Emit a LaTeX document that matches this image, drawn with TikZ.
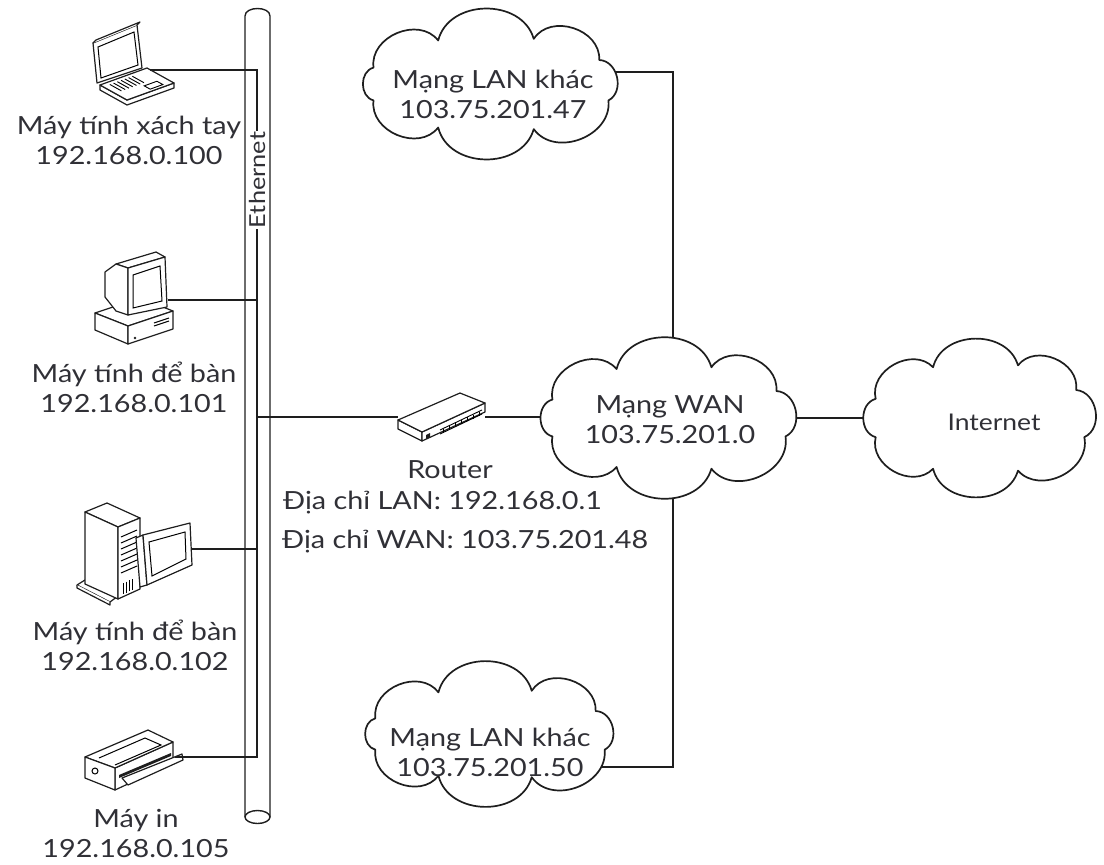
\documentclass[tikz,border=0pt]{standalone}
\usepackage{fontspec}
\setmainfont{Lato}[FakeStretch=1.15]
\usetikzlibrary{calc, backgrounds}

\definecolor{inkgray}{RGB}{48,48,54}
\definecolor{linegray}{RGB}{30,30,30}

\tikzset{
    wire/.style={draw=linegray, line width=1.7pt},
    sketch/.style={draw=linegray, line width=1.2pt, line join=round, fill=white},
    caption/.style={text=inkgray, font=\fontsize{25}{30}\selectfont, align=center, inner sep=0pt},
    cloudline/.style={draw=linegray, line width=1.7pt, fill=white, line join=round},
    % cloud outline: #1, #2 = radii of the ellipse the puffs sit on
    pics/puffcloud/.style 2 args={code={
        \draw[cloudline] (20:#1 and #2)
            \foreach \t in {70,115,160,200,245,290,330,380}
                { to[bend left=75, looseness=1.15] (\t:#1 and #2) } -- cycle;
        \coordinate (-c) at (0,0);
    }},
    % device drawings, (0,0) is where the cable plugs in
    laptop/.pic={
        \draw[sketch] (-53,13) -- (-57,-27) -- (-13,-45) -- (-8,-2) -- cycle;
        \draw[sketch] (-57,-27) -- (-54,-30) -- (-10,-48) -- (-13,-45);
        \draw[line width=1pt] (-49,8) -- (-52,-23) -- (-16,-38) -- (-12,-5) -- cycle;
        \draw[sketch] (-50,15) -- (-50,20) -- (-23,35) -- (24,18) -- (24,13) -- (-23,30) -- cycle;
        \draw[sketch] (-50,15) -- (-23,30) -- (24,13) -- (-3,-2) -- cycle;
        \begin{scope}[shift={(-50,15)}, x={(47pt,17pt)}, y={(27pt,-15pt)}]
            \foreach \u in {0.14,0.22,...,0.7}
                \draw[line width=0.9pt] (\u,0.12) -- (\u,0.55);
            \draw[line width=0.9pt] (0.55,0.68) -- (0.82,0.68) -- (0.82,0.9) -- (0.55,0.9) -- cycle;
        \end{scope}
        \coordinate (-port) at (0,0);
    },
    crtpc/.pic={
        \draw[sketch] (-73,13) -- (-40,26) -- (5,11) -- (-28,-2) -- cycle;
        \draw[sketch] (-73,13) -- (-73,30) -- (-40,44) -- (-40,26) -- cycle;
        \draw[sketch] (-40,26) -- (-40,44) -- (5,29) -- (5,11) -- cycle;
        \draw[line width=1pt] (-14,23) -- (1,18) (-14,26) -- (1,21);
        \fill[linegray] (-33,38) circle (1.3);
        \draw[sketch] (-40,-32) -- (-52,-36) -- (-12,-48) -- (-3,-43) -- cycle;
        \draw[sketch] (-52,-36) -- (-63,-28) -- (-63,-3) -- (-52,11) -- (-40,15) -- (-40,-32) -- cycle;
        \draw[sketch] (-40,-32) -- (-3,-43) -- (-1,7) -- (-40,15) -- cycle;
        \draw[line width=1pt] (-35,-25) -- (-8,-34) -- (-6,1) -- (-35,8) -- cycle;
        \coordinate (-port) at (0,0);
    },
    towerpc/.pic={
        \draw[sketch] (-115,36) -- (-107,31) -- (-74,47) -- (-82,53) -- cycle;
        \draw[sketch] (-115,36) -- (-115,39) -- (-82,56) -- (-82,53);
        \draw[sketch] (-107,-37) -- (-85,-46) -- (-52,-31) -- (-74,-22) -- cycle;
        \draw[sketch] (-107,-37) -- (-74,-22) -- (-74,50) -- (-107,35) -- cycle;
        \draw[sketch] (-74,-22) -- (-52,-31) -- (-52,40) -- (-74,50) -- cycle;
        \foreach \k in {0,...,6}
            \draw[line width=1pt] (-71,-12+6*\k) -- (-55,-19+6*\k);
        \foreach \k in {0,...,3}
            \draw[line width=0.9pt] (-69+3*\k,34-1.3*\k) -- (-69+3*\k,45-1.3*\k);
        \draw[sketch] (-49,-14) -- (-56,-11) -- (-52,38) -- (-45,36) -- cycle;
        \draw[sketch] (-49,-14) -- (-2,-26) -- (0,16) -- (-45,36) -- cycle;
        \draw[line width=1pt] (-43,-7) -- (-7,-17) -- (-6,10) -- (-40,27) -- cycle;
        \coordinate (-port) at (0,0);
    },
    printer/.pic={
        \draw[sketch] (-60,11) -- (-2,-15) -- (-2,6) -- (-60,33) -- cycle;
        \draw[sketch] (-90,0) -- (-27,-27) -- (-2,-15) -- (-60,11) -- cycle;
        \draw[line width=1pt] (-76,1) -- (-30,-19) -- (-14,-12) -- (-60,8);
        \draw[sketch] (-90,0) -- (-60,11) -- (-60,33) -- (-90,21) -- cycle;
        \draw[line width=1pt] (-80,14) circle (3);
        \fill[linegray] (-56,18) -- (-4,-4) -- (-4,-1) -- (-56,21) -- cycle;
        \draw[sketch] (-53,21) -- (7,-3) -- (8,3) -- (-47,28) -- cycle;
        \coordinate (-port) at (0,0);
    },
    router/.pic={
        \draw[sketch] (0,3) -- (24,15) -- (24,24) -- (0,12) -- cycle;
        \draw[sketch] (24,15) -- (87,-14) -- (87,-5) -- (24,24) -- cycle;
        \draw[sketch] (0,3) -- (62,-24) -- (87,-14) -- (24,15) -- cycle;
        \fill[linegray] (28,18) -- (32,16) -- (32,20) -- (28,22) -- cycle;
        \draw[line width=0.9pt] (42,13) -- (84,-7) (42,17) -- (84,-3);
        \foreach \k in {0,...,6}
            \draw[line width=0.8pt] (45+6*\k,11.6-2.8*\k) -- (45+6*\k,15.6-2.8*\k);
        \coordinate (-in) at (0,0);
        \coordinate (-out) at (87,0);
    },
}

\begin{document}
\begin{tikzpicture}[x=1pt, y=-1pt]
\useasboundingbox (0,0) rectangle (1104,865);

% ethernet backbone
\draw[linegray, line width=1.4pt, fill=white] (245,817) -- (245,16) .. controls (245,6) and (270,6) .. (270,16) -- (270,817);
\draw[linegray, line width=1.4pt, fill=white] (257.5,817) ellipse (12.5 and 6.5);
\coordinate (busTop) at (257,70);
\coordinate (busBot) at (257,757);

% machines on the LAN
\pic (lap) at (150,70) {laptop};
\pic (pc1) at (168,300) {crtpc};
\pic (pc2) at (192,549) {towerpc};
\pic (prn) at (175,757) {printer};
\pic (rt) at (398,417) {router};

\draw[wire] (lap-port) -- (busTop) -- (busBot) -- (prn-port);
\draw[wire] (pc1-port) -- (pc1-port -| busTop);
\draw[wire] (pc2-port) -- (pc2-port -| busTop);
\draw[wire] (rt-in -| busTop) -- (rt-in);

\node[caption, rotate=90, fill=white, inner sep=1pt, font=\fontsize{22}{24}\selectfont] (eth) at (257,180) {Ethernet};

\node[caption] (lapLbl) at (129,140) {Máy tính xách tay\\192.168.0.100};
\node[caption] (pc1Lbl) at (134,387) {Máy tính để bàn\\192.168.0.101};
\node[caption] (pc2Lbl) at (135,645) {Máy tính để bàn\\192.168.0.102};
\node[caption] (prnLbl) at (136,833) {Máy in\\192.168.0.105};

\node[caption] (rtName) at (450,470) {Router};
\node[caption, anchor=west] (rtLan) at (283,503) {Địa chỉ LAN: 192.168.0.1};
\node[caption, anchor=west] (rtWan) at (282,542) {Địa chỉ WAN: 103.75.201.48};

% networks outside
\pic (lanA) at (491,84) {puffcloud={125}{48}};
\node[caption] (lanAtxt) at (493,94) {Mạng LAN khác\\103.75.201.47};
\pic (lanB) at (490,734) {puffcloud={122}{46}};
\node[caption] (lanBtxt) at (490,752) {Mạng LAN khác\\103.75.201.50};
\pic (wan) at (669,418) {puffcloud={124}{54}};
\node[caption] (wanTxt) at (670,420) {Mạng WAN\\103.75.201.0};
\pic (inet) at (980,418) {puffcloud={111}{56}};
\node[caption, font=\fontsize{23}{28}\selectfont] (inetTxt) at (994,422) {Internet};

\begin{scope}[on background layer]
    \draw[wire] ($(lanA-c)+(0,-12)$) -| ($(wan-c)+(4,0)$);
    \draw[wire] ($(lanB-c)+(0,33)$) -| ($(wan-c)+(4,0)$);
    \draw[wire] (rt-out) -- (rt-out -| wan-c);
    \draw[wire] (wan-c) -- (inet-c);
\end{scope}
\end{tikzpicture}
\end{document}
